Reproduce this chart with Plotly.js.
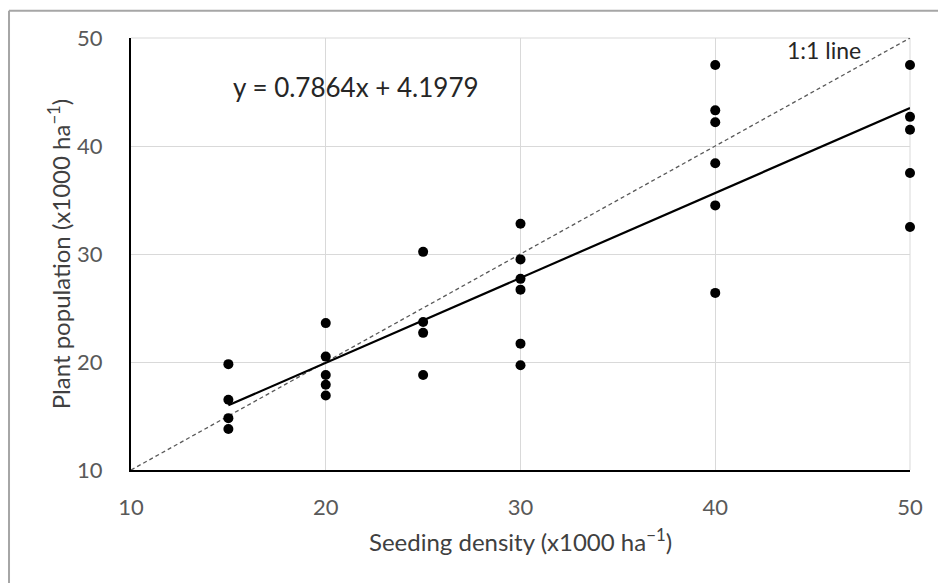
<!DOCTYPE html>
<html>
<head>
<meta charset="utf-8">
<script src="https://cdn.plot.ly/plotly-3.0.1.min.js"></script>
<style>html,body{margin:0;padding:0;background:#fff;overflow:hidden;}#chart{width:938px;height:583px;}</style>
</head>
<body>
<div id="chart"></div>
<script>
// Observations: seeding density (x1000 ha-1) and resulting plant population (x1000 ha-1)
const seedingDensity = [15,15,15,15, 20,20,20,20,20, 25,25,25,25, 30,30,30,30,30,30, 40,40,40,40,40,40, 50,50,50,50,50];
const plantPopulation = [19.8,16.5,14.8,13.8, 23.6,20.5,18.8,17.9,16.9, 30.2,23.7,22.7,18.8, 32.8,29.5,27.7,26.7,21.7,19.7, 47.5,43.3,42.2,38.4,34.5,26.4, 47.5,42.7,41.5,37.5,32.5];
// Linear fit reported on the chart
const fitSlope = 0.7864;
const fitIntercept = 4.1979;
// Axis range / 1:1 reference
const axisRange = [10, 50];
const tickVals = [10, 20, 30, 40, 50];

const xMin = Math.min(...seedingDensity), xMax = Math.max(...seedingDensity);
const fitX = [xMin, xMax];
const fitY = fitX.map(v => fitSlope * v + fitIntercept);

const FONT = 'Lato, "Open Sans", sans-serif';

const traces = [
  {x: axisRange, y: axisRange, mode: 'lines', type: 'scatter', name: '1:1 line',
   line: {color: '#595959', width: 1.3, dash: '4px,3px'}, hoverinfo: 'skip', cliponaxis: false},
  {x: fitX, y: fitY, mode: 'lines', type: 'scatter', name: 'Linear fit',
   line: {color: '#000000', width: 2.2}, cliponaxis: false},
  {x: seedingDensity, y: plantPopulation, mode: 'markers', type: 'scatter', name: 'Observed',
   marker: {color: '#000000', size: 10}, cliponaxis: false}
];

const layout = {
  width: 938, height: 583,
  margin: {l: 131, r: 28, t: 38, b: 113},
  paper_bgcolor: '#ffffff', plot_bgcolor: '#ffffff',
  showlegend: false,
  font: {family: FONT, color: '#595959', size: 22},
  xaxis: {
    range: axisRange, tickvals: tickVals, ticks: '',
    showgrid: true, gridcolor: '#d9d9d9', gridwidth: 1,
    zeroline: false, showline: true, linecolor: '#000000', linewidth: 2,
    tickfont: {family: FONT, size: 22, color: '#595959'},
    ticklabelstandoff: 17,
    title: {text: 'Seeding density (x1000 ha<sup>−1</sup>)', font: {family: FONT, size: 24, color: '#404040'}, standoff: 15},
    automargin: false
  },
  yaxis: {
    range: axisRange, tickvals: tickVals, ticks: '',
    showgrid: true, gridcolor: '#d9d9d9', gridwidth: 1,
    zeroline: false, showline: true, linecolor: '#000000', linewidth: 2,
    tickfont: {family: FONT, size: 22, color: '#595959'},
    ticklabelstandoff: 22,
    title: {text: 'Plant population (x1000 ha<sup>−1</sup>)', font: {family: FONT, size: 24, color: '#404040'}, standoff: 0},
    automargin: false
  },
  shapes: [
    // outer chart frame (only left and top edges are visible in the crop)
    {type: 'line', xref: 'paper', yref: 'paper', x0: -0.1566, x1: -0.1566, y0: -0.5, y1: 1.063,
     line: {color: '#a6a6a6', width: 2}, layer: 'below'},
    {type: 'line', xref: 'paper', yref: 'paper', x0: -0.1566, x1: 1.2, y0: 1.063, y1: 1.063,
     line: {color: '#a6a6a6', width: 2}, layer: 'below'},
    {type: 'line', xref: 'paper', yref: 'paper', x0: 0, x1: 1, y0: 1, y1: 1, line: {color: '#d9d9d9', width: 1}, layer: 'below'},
    {type: 'line', xref: 'paper', yref: 'paper', x0: 1, x1: 1, y0: 0, y1: 1, line: {color: '#d9d9d9', width: 1}, layer: 'below'}
  ],
  annotations: [
    {text: 'y = 0.7864x + 4.1979', xref: 'paper', yref: 'paper', x: 0.289, y: 0.887,
     showarrow: false, xanchor: 'center', yanchor: 'middle', font: {family: FONT, size: 26, color: '#262626'}},
    {text: '1:1 line', xref: 'paper', yref: 'paper', x: 0.89, y: 0.972,
     showarrow: false, xanchor: 'center', yanchor: 'middle', font: {family: FONT, size: 23, color: '#262626'}}
  ]
};

Plotly.newPlot('chart', traces, layout, {displayModeBar: false, staticPlot: true});
</script>
</body>
</html>
